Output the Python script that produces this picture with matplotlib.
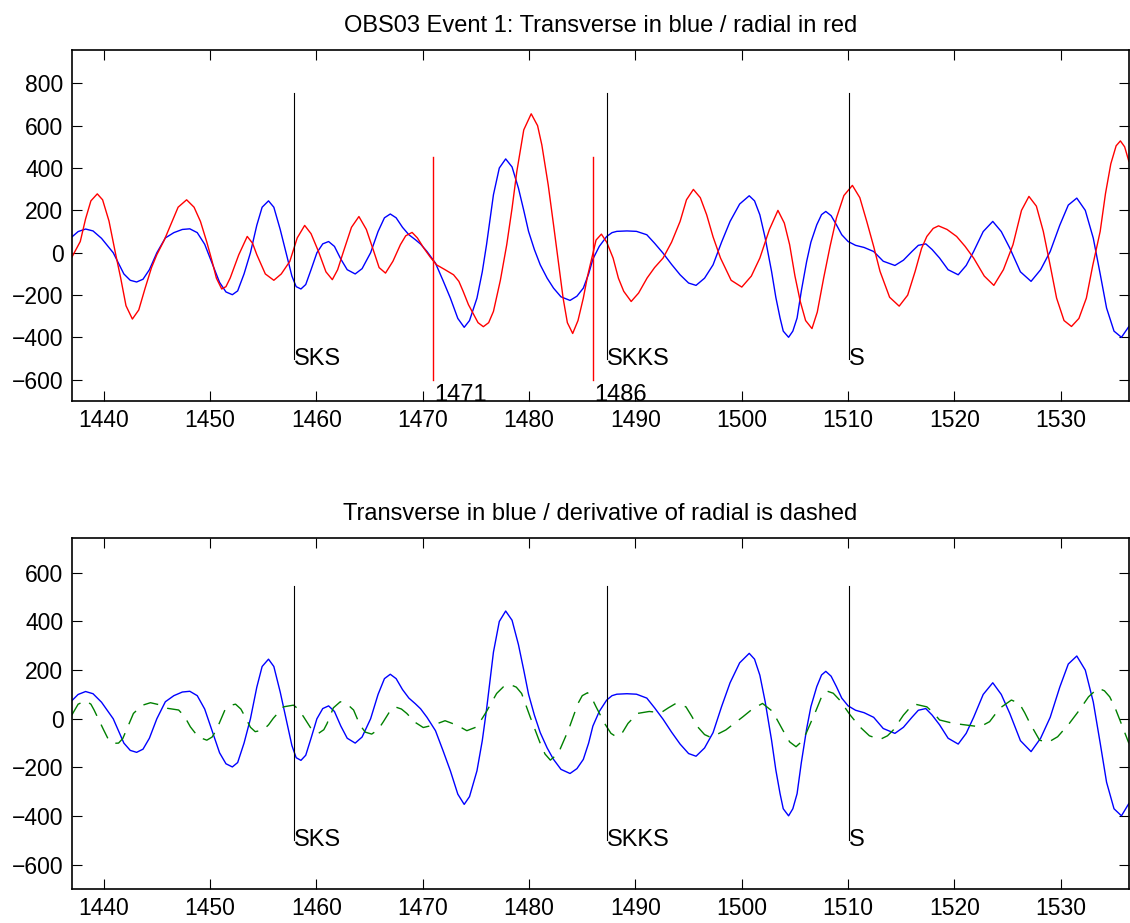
### OBS03 event 1: transverse / radial traces with phase picks

import matplotlib
matplotlib.use('Agg')
import matplotlib.pyplot as plt

plt.rcParams['font.family'] = ['Liberation Sans', 'DejaVu Sans']

# transverse component (blue) as (time, amplitude) pairs
trans = [
    (1437.0, 74), (1437.6, 100), (1438.3, 112), (1439.0, 103), (1439.8, 68), (1440.9, 0),
    (1441.9, -100), (1442.5, -130), (1443.1, -138), (1443.7, -125), (1444.3, -80), (1445.0, 0),
    (1445.8, 70), (1446.6, 95), (1447.4, 110), (1448.1, 113), (1448.8, 95), (1449.5, 40),
    (1450.2, -50), (1450.9, -140), (1451.5, -185), (1452.1, -198), (1452.6, -180), (1453.2, -100),
    (1453.8, 0), (1454.4, 130), (1454.9, 215), (1455.5, 245), (1456.0, 215), (1456.6, 110),
    (1457.2, -10), (1457.7, -110), (1458.1, -160), (1458.55, -171), (1459.0, -150), (1459.5, -80),
    (1460.05, 0), (1460.6, 42), (1461.15, 53), (1461.7, 30), (1462.3, -30), (1462.9, -80),
    (1463.65, -100), (1464.3, -75), (1465.1, 0), (1465.8, 100), (1466.4, 165), (1466.95, 183),
    (1467.5, 165), (1468.1, 120), (1468.7, 85), (1469.3, 62), (1469.8, 41), (1470.4, 6),
    (1471.2, -49), (1471.9, -130), (1472.6, -214), (1473.3, -310), (1473.9, -352), (1474.4, -320),
    (1475.1, -214), (1475.6, -90), (1476.0, 38), (1476.65, 274), (1477.2, 400), (1477.8, 443),
    (1478.4, 405), (1479.0, 305), (1479.5, 200), (1479.95, 101), (1480.5, 15), (1481.05, -57),
    (1481.7, -120), (1482.3, -167), (1483.0, -208), (1483.85, -225), (1484.5, -205), (1485.1, -167),
    (1485.6, -100), (1486.0, -30), (1486.6, 30), (1487.3, 77), (1487.8, 95), (1488.25, 101),
    (1489.2, 103), (1490.1, 101), (1491.07, 85), (1491.8, 45), (1492.6, -2), (1493.4, -55),
    (1494.2, -104), (1495.0, -143), (1495.7, -154), (1496.5, -120), (1497.3, -57), (1498.1, 50),
    (1498.9, 148), (1499.8, 230), (1500.7, 269), (1501.2, 245), (1501.7, 179), (1502.2, 70),
    (1502.8, -88), (1503.2, -210), (1503.6, -308), (1503.9, -370), (1504.4, -399), (1504.8, -370),
    (1505.2, -308), (1505.6, -180), (1506.1, -41), (1506.5, 50), (1507.05, 132), (1507.5, 180),
    (1507.9, 195), (1508.4, 175), (1508.9, 132), (1509.4, 85), (1510.0, 53), (1510.7, 35),
    (1511.5, 25), (1512.4, 6), (1513.3, -40), (1514.4, -60), (1515.2, -35), (1516.0, 6),
    (1516.6, 35), (1517.3, 42), (1517.9, 15), (1518.6, -25), (1519.4, -80), (1520.35, -104),
    (1521.1, -60), (1521.8, 6), (1522.7, 100), (1523.6, 148), (1524.4, 100), (1525.2, 22),
    (1526.2, -90), (1527.2, -135), (1528.1, -80), (1529.0, 6), (1529.9, 130), (1530.7, 225),
    (1531.5, 258), (1532.3, 200), (1533.05, 69), (1533.7, -100), (1534.3, -261), (1535.0, -370),
    (1535.7, -399), (1536.4, -348),
]

# radial component (red)
radial = [
    (1437.0, -22), (1437.8, 53), (1438.3, 160), (1438.8, 245), (1439.4, 278), (1439.9, 250),
    (1440.5, 150), (1441.1, 0), (1441.6, -119), (1442.1, -250), (1442.7, -313), (1443.3, -270),
    (1443.9, -167), (1444.5, -70), (1445.0, -9), (1445.7, 60), (1446.3, 132), (1447.0, 215),
    (1447.8, 250), (1448.5, 215), (1449.1, 148), (1449.7, 50), (1450.2, -41), (1450.6, -120),
    (1451.1, -171), (1451.5, -160), (1451.9, -119), (1452.7, -10), (1453.5, 77), (1454.0, 45),
    (1454.4, -9), (1455.2, -100), (1456.0, -130), (1456.7, -100), (1457.5, -41), (1458.2, 70),
    (1458.9, 129), (1459.5, 90), (1460.2, 6), (1460.9, -90), (1461.5, -127), (1462.0, -80),
    (1462.55, 6), (1463.3, 120), (1464.0, 171), (1464.7, 110), (1465.4, 6), (1465.9, -70),
    (1466.5, -96), (1467.2, -40), (1467.9, 38), (1468.4, 80), (1469.0, 96), (1469.5, 70),
    (1470.1, 22), (1470.7, -20), (1471.3, -57), (1472.1, -80), (1472.9, -104), (1473.4, -135),
    (1473.8, -182), (1474.3, -245), (1474.8, -292), (1475.2, -330), (1475.7, -349), (1476.2, -330),
    (1476.65, -277), (1477.3, -130), (1477.9, 38), (1478.4, 210), (1478.85, 384), (1479.5, 580),
    (1480.2, 656), (1480.8, 600), (1481.2, 509), (1481.8, 320), (1482.3, 132), (1482.8, -60),
    (1483.2, -214), (1483.6, -330), (1484.1, -381), (1484.6, -320), (1485.1, -214), (1485.5, -110),
    (1485.9, -25), (1486.3, 60), (1486.8, 88), (1487.3, 50), (1487.9, -25), (1488.4, -120),
    (1488.9, -182), (1489.6, -230), (1490.3, -190), (1491.1, -119), (1491.8, -70), (1492.6, -25),
    (1493.4, 50), (1494.2, 148), (1494.8, 250), (1495.45, 299), (1496.1, 260), (1496.7, 179),
    (1497.3, 75), (1498.0, -25), (1499.0, -130), (1500.0, -162), (1500.9, -110), (1501.7, -25),
    (1502.6, 110), (1503.4, 200), (1504.0, 140), (1504.5, 38), (1505.0, -110), (1505.5, -230),
    (1506.0, -320), (1506.6, -358), (1507.1, -280), (1507.7, -119), (1508.3, 30), (1508.9, 164),
    (1509.6, 270), (1510.4, 318), (1511.1, 260), (1511.75, 148), (1512.4, 30), (1513.0, -88),
    (1513.9, -210), (1514.8, -252), (1515.6, -200), (1516.3, -88), (1516.9, 20), (1517.4, 77),
    (1518.0, 115), (1518.5, 127), (1519.3, 110), (1520.2, 77), (1521.0, 30), (1521.8, -25),
    (1522.8, -110), (1523.7, -154), (1524.6, -80), (1525.5, 38), (1526.3, 200), (1527.0, 266),
    (1527.7, 220), (1528.35, 101), (1529.0, -60), (1529.6, -214), (1530.3, -320), (1531.0, -348),
    (1531.7, -310), (1532.4, -214), (1533.0, -60), (1533.7, 101), (1534.2, 280), (1534.7, 420),
    (1535.2, 505), (1535.6, 528), (1536.0, 500), (1536.4, 431),
]

# derivative of radial (green dashed, lower panel)
deriv = [
    (1437.0, 15), (1437.6, 60), (1438.3, 74), (1438.8, 60), (1439.1, 36), (1440.0, -46),
    (1440.5, -90), (1440.9, -101), (1441.4, -100), (1441.8, -81), (1442.3, -30), (1442.8, 22),
    (1443.6, 55), (1444.4, 66), (1445.2, 58), (1446.0, 43), (1447.05, 36), (1447.6, 10),
    (1448.15, -33), (1448.9, -75), (1449.7, -88), (1450.2, -75), (1450.6, -46), (1451.4, 36),
    (1451.9, 55), (1452.4, 60), (1452.9, 40), (1453.3, 8), (1453.8, -35), (1454.25, -53),
    (1455.0, -46), (1455.5, -25), (1455.95, 2), (1456.9, 49), (1457.85, 56), (1458.3, 40),
    (1458.8, 8), (1459.5, -40), (1460.2, -60), (1460.7, -45), (1461.0, -20), (1461.6, 45),
    (1462.25, 70), (1462.9, 60), (1463.5, 36), (1464.1, -26), (1464.6, -55), (1465.2, -63),
    (1465.8, -45), (1466.3, -12), (1466.9, 30), (1467.4, 49), (1468.0, 40), (1468.5, 22),
    (1469.3, -15), (1470.05, -36), (1471.0, -26), (1472.1, -8), (1473.2, -26), (1474.15, -49),
    (1475.1, -33), (1476.0, 30), (1476.95, 104), (1477.6, 132), (1478.2, 141), (1478.8, 130),
    (1479.3, 104), (1480.1, 8), (1481.05, -101), (1481.5, -145), (1482.0, -170), (1482.75, -142),
    (1483.7, -46), (1484.6, 63), (1485.0, 95), (1485.5, 107), (1485.9, 85), (1486.3, 49),
    (1487.1, -19), (1487.7, -60), (1488.2, -74), (1488.8, -55), (1489.3, -19), (1490.2, 22),
    (1491.3, 30), (1492.4, 25), (1493.1, 45), (1493.8, 63), (1494.75, 49), (1495.3, 10),
    (1495.85, -33), (1496.5, -65), (1497.1, -77), (1498.5, -46), (1500.1, 8), (1501.0, 40),
    (1501.95, 63), (1502.9, 30), (1503.85, -46), (1504.5, -95), (1505.1, -115), (1505.6, -95),
    (1506.05, -60), (1507.0, 36), (1507.5, 90), (1508.0, 114), (1508.6, 105), (1509.2, 77),
    (1510.2, 15), (1511.1, -33), (1512.0, -70), (1513.0, -85), (1513.7, -70), (1514.25, -46),
    (1515.2, 15), (1515.8, 45), (1516.3, 60), (1517.4, 49), (1518.0, 25), (1518.6, -5),
    (1519.9, -19), (1521.15, -26), (1522.4, -33), (1523.3, -12), (1524.25, 43), (1525.35, 77),
    (1526.1, 63), (1526.6, 25), (1527.1, -19), (1528.0, -88), (1528.8, -97), (1529.7, -74),
    (1530.8, -19), (1531.75, 36), (1532.6, 90), (1533.5, 126), (1534.1, 115), (1534.6, 90),
    (1535.1, 45), (1535.55, -5), (1536.4, -101),
]

# predicted phase arrivals and manual picks
phases = ['SKS', 'SKKS', 'S']
phase_times = [1457.9, 1487.3, 1510.05]
picks = [1471, 1486]

t_trans, v_trans = zip(*trans)
t_rad, v_rad = zip(*radial)
t_deriv, v_deriv = zip(*deriv)

xlim = (1437.0, 1536.45)
fs_tick = 16.5
fs_text = 17

fig = plt.figure(figsize=(11.30, 9.23), dpi=100)
ax1 = fig.add_axes([0.0635, 0.5655, 0.936, 0.3803])
ax2 = fig.add_axes([0.0635, 0.0368, 0.936, 0.38])

lw = 1.0
ax1.plot(t_trans, v_trans, color='b', lw=lw)
ax1.plot(t_rad, v_rad, color='r', lw=lw)
for name, t in zip(phases, phase_times):
    ax1.plot([t, t], [-500, 756], color='k', lw=0.8)
    ax1.text(t, -500, name, va='center', ha='left', fontsize=fs_text)
for p in picks:
    ax1.plot([p, p], [-600, 450], color='r', lw=1.0)
    ax1.text(p + 0.1, -670, str(p), va='center', ha='left', fontsize=fs_text)
ax1.set_xlim(xlim)
ax1.set_ylim(-700, 957)
ax1.set_yticks(range(-600, 801, 200))
ax1.set_title('OBS03 Event 1: Transverse in blue / radial in red', fontsize=fs_text, pad=13)

ax2.plot(t_trans, v_trans, color='b', lw=lw)
ax2.plot(t_deriv, v_deriv, color=(0, 0.5, 0), lw=lw, ls=(0, (11, 7)))
for name, t in zip(phases, phase_times):
    ax2.plot([t, t], [-500, 545], color='k', lw=0.8)
    ax2.text(t, -500, name, va='center', ha='left', fontsize=fs_text)
ax2.set_xlim(xlim)
ax2.set_ylim(-700, 742)
ax2.set_yticks(range(-600, 601, 200))
ax2.set_title('Transverse in blue / derivative of radial is dashed', fontsize=fs_text, pad=13)

for ax in (ax1, ax2):
    ax.set_xticks(range(1440, 1531, 10))
    ax.tick_params(direction='in', top=True, right=True, length=7, width=0.8,
                   labelsize=fs_tick, pad=6)
    for s in ax.spines.values():
        s.set_linewidth(1.2)

fig.savefig('out.png', dpi=100)
